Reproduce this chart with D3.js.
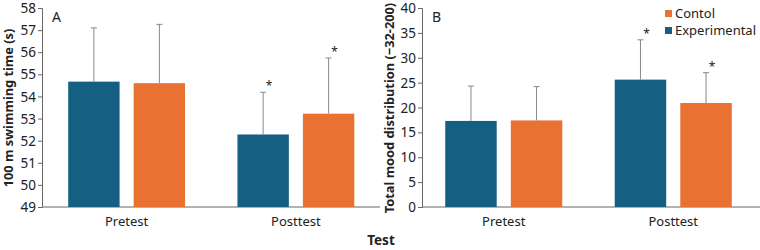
<!DOCTYPE html>
<html>
<head>
<meta charset="utf-8">
<script src="https://cdn.jsdelivr.net/npm/d3@7"></script>
<style>
  body { margin: 0; background: #fff; }
  text { font-family: "Noto Sans", "Open Sans", sans-serif; fill: #222; }
</style>
</head>
<body>
<svg id="chart" width="760" height="250"></svg>
<script>
// Data
const tests = ["Pretest", "Posttest"];
const groups = ["Experimental", "Contol"];
const swimMean = [[54.67, 54.60], [52.28, 53.22]];   // [test][group]
const swimErr  = [[2.43, 2.66], [1.91, 2.52]];
const swimSig  = [[false, false], [true, true]];
const moodMean = [[17.3, 17.4], [25.6, 20.9]];
const moodErr  = [[7.0, 6.8], [8.0, 6.1]];
const moodSig  = [[false, false], [true, true]];
const swimTicks = d3.range(49, 59, 1);
const moodTicks = d3.range(0, 45, 5);

const colors = { "Experimental": "#156082", "Contol": "#E97132" };

const svg = d3.select("#chart");

function panel(opts) {
  const g = svg.append("g");
  const y = d3.scaleLinear().domain(opts.domain).range([207, 8]);
  const x0 = d3.scaleBand().domain(tests).range(opts.band);
  const x1 = d3.scaleBand().domain(groups).range([0, x0.bandwidth()]).paddingInner(0.215).paddingOuter(0.4);

  // y axis
  const yAxis = d3.axisLeft(y).tickValues(opts.ticks).tickSize(4).tickFormat(d3.format("d"));
  const ya = g.append("g").attr("transform", `translate(${opts.left},0)`).call(yAxis);
  ya.select(".domain").attr("stroke", "#666");
  ya.selectAll(".tick line").attr("stroke", "#666");
  ya.selectAll(".tick text").attr("font-size", 13.5).attr("fill", "#333").attr("x", -6)
    .attr("dy", "0.34em")
    .style("font-family", "'Noto Sans', sans-serif");

  // x axis line
  g.append("line").attr("x1", opts.left).attr("x2", opts.axisEnd)
    .attr("y1", y(opts.domain[0])).attr("y2", y(opts.domain[0]))
    .attr("stroke", "#666");

  // category labels
  g.selectAll(".cat").data(tests).enter().append("text")
    .attr("x", d => x0(d) + x0.bandwidth() / 2)
    .attr("y", 226)
    .attr("text-anchor", "middle")
    .attr("font-size", 13)
    .text(d => d);

  // bars
  const items = [];
  tests.forEach((t, i) => groups.forEach((gr, j) => items.push({
    t, gr, v: opts.mean[i][j], e: opts.err[i][j], s: opts.sig[i][j]
  })));

  g.selectAll(".bar").data(items).enter().append("rect")
    .attr("x", d => x0(d.t) + x1(d.gr))
    .attr("width", x1.bandwidth())
    .attr("y", d => y(d.v))
    .attr("height", d => y(opts.domain[0]) - y(d.v))
    .attr("fill", d => colors[d.gr]);

  // error bars (upper only)
  const cx = d => x0(d.t) + x1(d.gr) + x1.bandwidth() / 2;
  g.selectAll(".err").data(items).enter().append("line")
    .attr("x1", cx).attr("x2", cx)
    .attr("y1", d => y(d.v)).attr("y2", d => y(d.v + d.e))
    .attr("stroke", "#888").attr("stroke-width", 1);
  g.selectAll(".cap").data(items).enter().append("line")
    .attr("x1", d => cx(d) - 3).attr("x2", d => cx(d) + 3)
    .attr("y1", d => y(d.v + d.e)).attr("y2", d => y(d.v + d.e))
    .attr("stroke", "#888").attr("stroke-width", 1);

  // significance stars
  g.selectAll(".star").data(items.filter(d => d.s)).enter().append("text")
    .attr("x", d => cx(d) + 6)
    .attr("y", d => y(d.v + d.e) - 2)
    .attr("text-anchor", "middle")
    .attr("font-size", 12)
    .text("*");

  // panel letter
  g.append("text").attr("x", opts.left + 10).attr("y", 22)
    .attr("font-size", 14).text(opts.letter);

  // y title
  g.append("text")
    .attr("transform", `translate(${opts.titleX},${108}) rotate(-90)`)
    .attr("text-anchor", "middle")
    .attr("font-size", 12.8)
    .attr("font-weight", "bold")
    .text(opts.title);
  return { y, x0, x1 };
}

panel({
  left: 42, band: [42, 380.5], axisEnd: 380, domain: [49, 58], ticks: swimTicks,
  mean: swimMean, err: swimErr, sig: swimSig, letter: "A",
  title: "100 m swimming time (s)", titleX: 13
});

panel({
  left: 422, band: [419, 758], axisEnd: 760, domain: [0, 40], ticks: moodTicks,
  mean: moodMean, err: moodErr, sig: moodSig, letter: "B",
  title: "Total mood distribution (\u221232-200)", titleX: 394
});

// shared x title
svg.append("text").attr("x", 381).attr("y", 245)
  .attr("text-anchor", "middle").attr("font-size", 13.5).attr("font-weight", "bold")
  .text("Test");

// legend
const legendItems = ["Contol", "Experimental"];
const lg = svg.append("g").attr("transform", "translate(665,7)");
lg.selectAll("rect").data(legendItems).enter().append("rect")
  .attr("x", 0).attr("y", (d, i) => i * 17 + 3)
  .attr("width", 7).attr("height", 7)
  .attr("fill", d => colors[d]);
lg.selectAll("text").data(legendItems).enter().append("text")
  .attr("x", 10).attr("y", (d, i) => i * 17 + 11)
  .attr("font-size", 13)
  .text(d => d);
</script>
</body>
</html>
